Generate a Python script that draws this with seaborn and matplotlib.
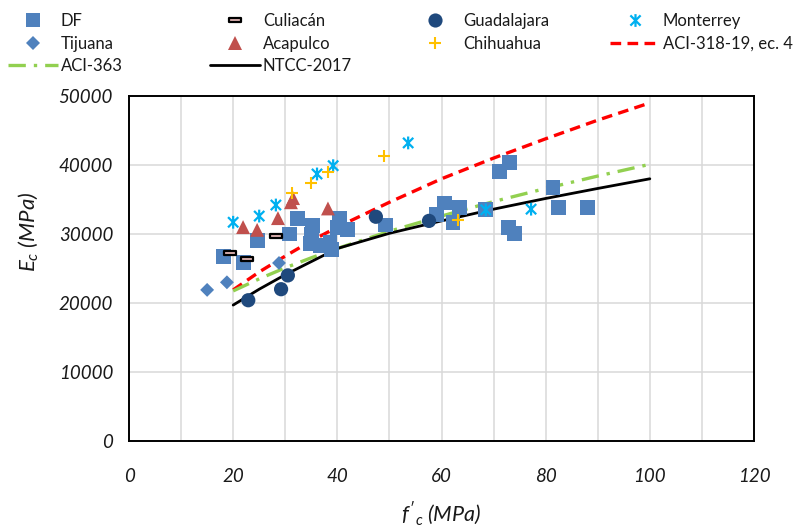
import numpy as np
import pandas as pd
import matplotlib
matplotlib.use("Agg")
import matplotlib.pyplot as plt
import seaborn as sns
from matplotlib.path import Path
from matplotlib.lines import Line2D

# ---------------- data ----------------
df_fc = [18.2, 21.9, 24.6, 30.9, 32.3, 35.3, 35.1, 34.8, 36.7, 38.8, 38.6, 40.5, 40.1, 41.9,
         49.3, 59.1, 60.5, 63.4, 62.2, 68.5, 71.2, 73.0, 72.8, 74.1, 81.4, 82.4, 88.1]
df_ec = [26700, 25900, 29100, 30000, 32200, 31200, 29900, 28600, 28300, 27800, 28800, 32300, 30900, 30700,
         31300, 32800, 34500, 33900, 31700, 33500, 39000, 40400, 31000, 30100, 36800, 33800, 33800]

tijuana_fc = [15.0, 18.8, 28.8]
tijuana_ec = [21900, 23000, 25800]

culiacan_fc = [19.4, 22.7, 28.2]
culiacan_ec = [27200, 26400, 29700]

guadalajara_fc = [22.9, 29.2, 30.5, 47.4, 57.6]
guadalajara_ec = [20400, 22000, 24000, 32500, 31900]

acapulco_fc = [21.9, 24.6, 28.6, 31.1, 31.5, 38.2]
acapulco_ec = [31000, 30600, 32300, 34600, 35200, 33700]

monterrey_fc = [20.0, 25.0, 28.2, 36.1, 39.2, 53.6, 68.5, 77.2]
monterrey_ec = [31700, 32600, 34200, 38700, 39900, 43200, 33500, 33600]

chihuahua_fc = [31.3, 34.9, 38.2, 49.0, 63.2]
chihuahua_ec = [35900, 37400, 39000, 41300, 32000]

curve_fc = [20, 25, 30, 35, 40, 50, 60, 70, 80, 90, 100]
aci318_ec = [21900, 24500, 26800, 29000, 31000, 34600, 38000, 41000, 43800, 46500, 49000]
aci363_ec = [21750, 23500, 25100, 26550, 27900, 30400, 32600, 34700, 36600, 38400, 40100]
ntcc_ec = [19700, 22000, 24100, 26000, 27900, 30100, 31900, 33600, 35150, 36600, 38000]

x_ticks = [0, 20, 40, 60, 80, 100, 120]
y_ticks = [0, 10000, 20000, 30000, 40000, 50000]

# ---------------- style ----------------
sns.set_style("white")
plt.rcParams["font.family"] = ["Lato", "DejaVu Sans"]
plt.rcParams["mathtext.fontset"] = "custom"
plt.rcParams["mathtext.it"] = "Lato:italic"
plt.rcParams["mathtext.rm"] = "Lato"

C_DF = "#4F81BD"
C_GUA = "#1F497D"
C_MTY = "#00B0F0"
C_ACA = "#C0504D"
C_CHI = "#FFC000"
C_CUL_FACE = "#E6B9B8"
C_RED = "#FF0000"
C_GREEN = "#92D050"

rect_marker = Path([(-1, -0.38), (1, -0.38), (1, 0.38), (-1, 0.38), (-1, -0.38)],
                   [Path.MOVETO, Path.LINETO, Path.LINETO, Path.LINETO, Path.CLOSEPOLY])
star_marker = Path([(-0.8, -0.8), (0.8, 0.8), (-0.8, 0.8), (0.8, -0.8), (0, -1.0), (0, 1.0)],
                   [Path.MOVETO, Path.LINETO, Path.MOVETO, Path.LINETO, Path.MOVETO, Path.LINETO])

red_ls = (0, (3.2, 1.9))
green_ls = (0, (5.2, 2.4, 1.0, 2.4))

fig = plt.figure(figsize=(7.99, 5.27), dpi=100)
ax = fig.add_axes([129 / 799, 86 / 527, 625 / 799, 345 / 527])

# curves
sns.lineplot(x=curve_fc, y=aci318_ec, ax=ax, color=C_RED, lw=2.4, linestyle=red_ls, zorder=2)
sns.lineplot(x=curve_fc, y=aci363_ec, ax=ax, color=C_GREEN, lw=2.4, linestyle=green_ls, zorder=2)
sns.lineplot(x=curve_fc, y=ntcc_ec, ax=ax, color="black", lw=2.0, zorder=2)

# scatter series
sns.scatterplot(x=df_fc, y=df_ec, ax=ax, marker="s", s=115, color=C_DF, edgecolor="none", linewidth=0, zorder=3)
sns.scatterplot(x=tijuana_fc, y=tijuana_ec, ax=ax, marker="D", s=50, color=C_DF, edgecolor="none", linewidth=0, zorder=3)
sns.scatterplot(x=culiacan_fc, y=culiacan_ec, ax=ax, marker=rect_marker, s=85, color=C_CUL_FACE,
                edgecolor="black", linewidth=1.6, zorder=4)
sns.scatterplot(x=guadalajara_fc, y=guadalajara_ec, ax=ax, marker="o", s=105, color=C_GUA, edgecolor="none", linewidth=0, zorder=3)
sns.scatterplot(x=acapulco_fc, y=acapulco_ec, ax=ax, marker="^", s=100, color=C_ACA, edgecolor="none", linewidth=0, zorder=3)
sns.scatterplot(x=monterrey_fc, y=monterrey_ec, ax=ax, marker=star_marker, s=85, color=C_MTY,
                facecolor="none", edgecolor=C_MTY, linewidth=1.6, zorder=4)
sns.scatterplot(x=chihuahua_fc, y=chihuahua_ec, ax=ax, marker="+", s=80, color=C_CHI, linewidth=1.5, zorder=4)

# axes
ax.set_xlim(0, 120)
ax.set_ylim(0, 50000)
tick_font = dict(fontsize=13.5, fontstyle="italic", color="#1a1a1a")
ax.set_xticks(x_ticks, labels=[str(v) for v in x_ticks], **tick_font)
ax.set_xticks(np.arange(0, 121, 10), minor=True)
ax.set_yticks(y_ticks, labels=[str(v) for v in y_ticks], **tick_font)
ax.set_axisbelow(True)
ax.grid(which="both", axis="x", color="#D9D9D9", lw=1.1)
ax.grid(which="major", axis="y", color="#D9D9D9", lw=1.1)
ax.tick_params(which="minor", length=0)
ax.tick_params(which="major", direction="inout", length=9, width=1.2, color="black")
ax.tick_params(axis="x", pad=15)
ax.tick_params(axis="y", pad=7)
for sp in ax.spines.values():
    sp.set_color("black")
    sp.set_linewidth(1.4)

ax.set_xlabel("$f'_c$ (MPa)", fontsize=15.5, fontstyle="italic", color="#1a1a1a")
ax.set_ylabel("$E_c$ (MPa)", fontsize=16, fontstyle="italic", color="#1a1a1a")
ax.xaxis.set_label_coords(0.5, -0.17)
ax.yaxis.set_label_coords(-0.142, 0.606)

# legend (4 columns, row-major as in the reference)
def mk(marker, color, size, **kw):
    return Line2D([], [], linestyle="none", marker=marker, markersize=size, color=color, **kw)

h_df = mk("s", C_DF, 10.5, markeredgewidth=0)
h_tij = mk("D", C_DF, 7, markeredgewidth=0)
h_363 = Line2D([], [], color=C_GREEN, lw=2.4, linestyle=green_ls)
h_cul = mk(rect_marker, C_CUL_FACE, 9.0, markeredgecolor="black", markeredgewidth=1.6)
h_aca = mk("^", C_ACA, 10, markeredgewidth=0)
h_ntcc = Line2D([], [], color="black", lw=2.0)
h_gua = mk("o", C_GUA, 10.2, markeredgewidth=0)
h_chi = mk("+", C_CHI, 9, markeredgewidth=1.5)
h_mty = mk(star_marker, C_MTY, 9.2, markerfacecolor="none", markeredgecolor=C_MTY, markeredgewidth=1.6)
h_318 = Line2D([], [], color=C_RED, lw=2.4, linestyle=red_ls)

columns = [
    ([h_df, h_tij, h_363], ["DF", "Tijuana", "ACI-363"], 8),
    ([h_cul, h_aca, h_ntcc], ["Culiacán", "Acapulco", "NTCC-2017"], 210),
    ([h_gua, h_chi], ["Guadalajara", "Chihuahua"], 410),
    ([h_mty, h_318], ["Monterrey", "ACI-318-19, ec. 4"], 610),
]
fs = 12
fs_px = fs * 100 / 72
for hs, ls, x0 in columns:
    fig.legend(hs, ls, loc="upper left", bbox_to_anchor=(x0 / 799, 1 - 13 / 527),
               frameon=False, fontsize=fs, borderpad=0, borderaxespad=0,
               handlelength=50 / fs_px, handletextpad=3 / fs_px, labelspacing=0.4,
               handleheight=0.7, labelcolor="#1a1a1a")

fig.savefig("out.png", dpi=100)
